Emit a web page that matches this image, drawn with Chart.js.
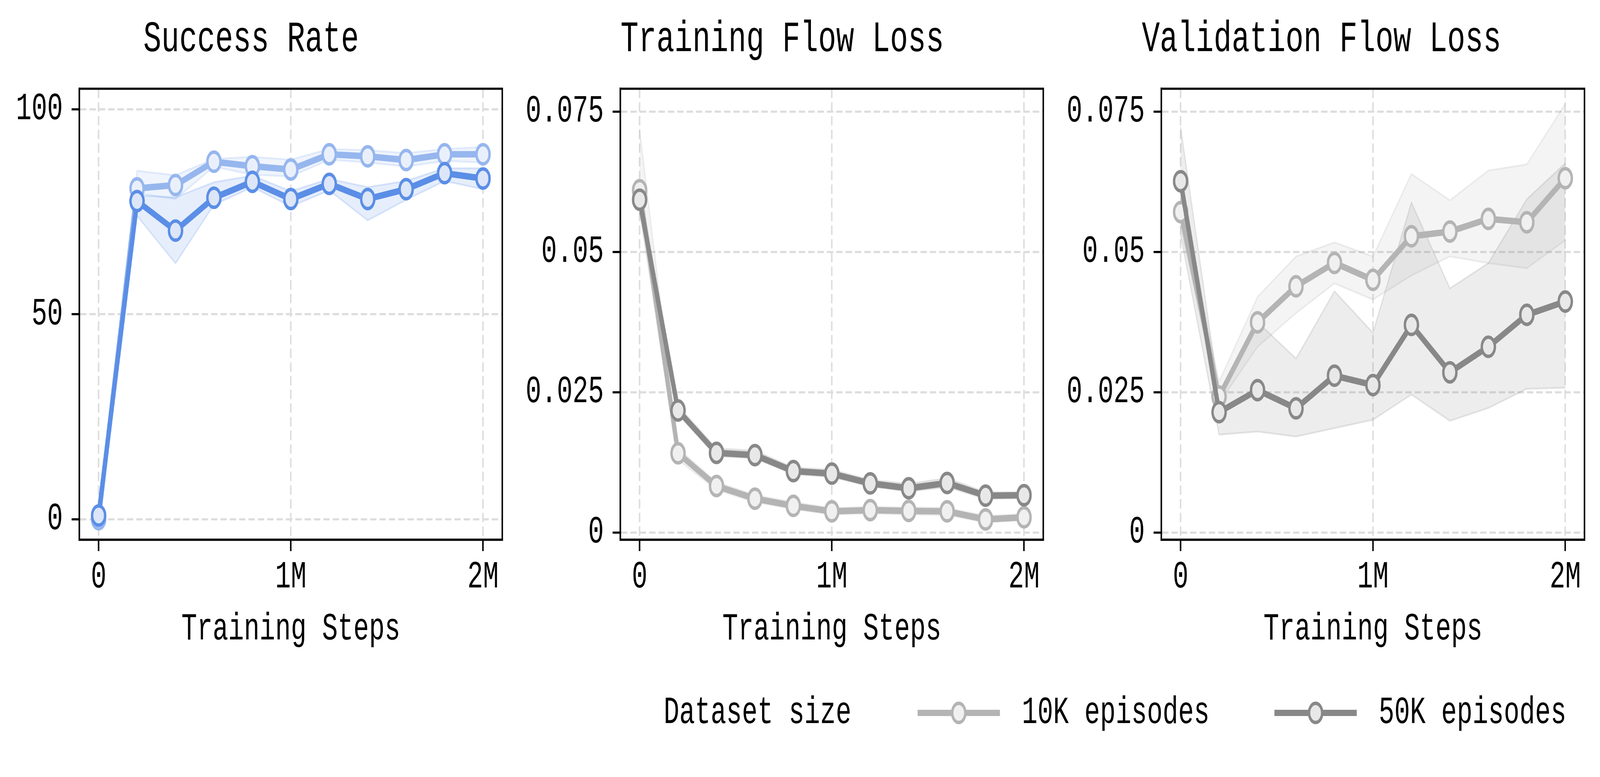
<!DOCTYPE html>
<html>
<head>
<meta charset="utf-8">
<script src="https://cdn.jsdelivr.net/npm/chart.js@4.4.1/dist/chart.umd.min.js"></script>
<style>
    html, body { margin: 0; padding: 0; background: #fff; overflow: hidden; }
    #outer { position: relative; overflow: hidden; background: #fff; }
    #wrap { position: absolute; left: 0; top: 0; width: 5986px; height: 1988px; overflow: hidden;
        transform-origin: 0 0; font-family: "Liberation Mono", monospace; background: #fff; }
    .panel { position: absolute; top: 0; }
    .leg-text { position: absolute; top: 1764px; height: 120px; line-height: 120px; font-size: 97.5px; color: #000; white-space: pre; }
    .leg-line { position: absolute; top: 1815.75px; width: 308px; height: 16.5px; }
    .leg-dot { position: absolute; top: 1795px; width: 40px; height: 40px; border-radius: 50%; border: 9px solid; }
</style>
</head>
<body>
<div id="outer">
<div id="wrap">
    <canvas id="chartSuccess" class="panel" style="left:0px"></canvas>
    <canvas id="chartTrain" class="panel" style="left:1950px"></canvas>
    <canvas id="chartVal" class="panel" style="left:3960px"></canvas>

    <div class="leg-text" style="left:2483px">Dataset size</div>
    <div class="leg-line" style="left:3433px; background:#b4b4b4"></div>
    <div class="leg-dot" style="left:3558px; border-color:#b4b4b4; background:#f0f0f0"></div>
    <div class="leg-text" style="left:3823px">10K episodes</div>
    <div class="leg-line" style="left:4768px; background:#888888"></div>
    <div class="leg-dot" style="left:4893px; border-color:#888888; background:#e8e8e8"></div>
    <div class="leg-text" style="left:5158px">50K episodes</div>
</div>
</div>

<script>
// Passos de treino (eixo x)
const steps = [0, 200000, 400000, 600000, 800000, 1000000, 1200000, 1400000, 1600000, 1800000, 2000000];
const xTicks = [0, 1000000, 2000000];
const xTickLabels = ['0', '1M', '2M'];

// Success Rate
const success10K = [0, 80.7, 81.5, 87.2, 86.1, 85.3, 89.0, 88.5, 87.6, 89.0, 89.0];
const success10KHi = [1, 85.0, 83.9, 87.9, 88.4, 87.7, 90.3, 90.0, 89.3, 90.3, 90.8];
const success10KLo = [0, 79.5, 78.1, 86.0, 84.0, 83.6, 87.7, 87.0, 86.0, 87.4, 87.0];
const success50K = [0.9, 77.6, 70.4, 78.4, 82.3, 78.1, 81.8, 78.1, 80.5, 84.4, 83.1];
const success50KHi = [2, 79.0, 78.5, 82.2, 83.8, 80.0, 83.0, 81.0, 82.5, 85.6, 85.6];
const success50KLo = [0, 74.0, 62.4, 76.7, 81.0, 76.3, 80.2, 72.9, 77.9, 82.5, 80.5];
const successTicks = [0, 50, 100];
const successTickLabels = ['0', '50', '100'];

// Training Flow Loss
const train10K = [0.0610, 0.01412, 0.0083, 0.00604, 0.00476, 0.00378, 0.0040, 0.00385, 0.00378, 0.00234, 0.00272];
const train10KHi = [0.0718, 0.0150, 0.0090, 0.0067, 0.0054, 0.0044, 0.0046, 0.0045, 0.0044, 0.0030, 0.0033];
const train10KLo = [0.0570, 0.0130, 0.0076, 0.0054, 0.0042, 0.0032, 0.0034, 0.0032, 0.0031, 0.0018, 0.0022];
const train50K = [0.0593, 0.02175, 0.0142, 0.0138, 0.01095, 0.0105, 0.00876, 0.0079, 0.00884, 0.00657, 0.00665];
const train50KHi = [0.0620, 0.0226, 0.0150, 0.0146, 0.0116, 0.0112, 0.0094, 0.0087, 0.0097, 0.0072, 0.0072];
const train50KLo = [0.0570, 0.0210, 0.0136, 0.0132, 0.0104, 0.0099, 0.0082, 0.0073, 0.0081, 0.0060, 0.0061];

// Validation Flow Loss
const val10K = [0.0571, 0.02424, 0.03746, 0.04388, 0.04804, 0.04502, 0.05279, 0.05363, 0.05589, 0.05529, 0.06314];
const val10KHi = [0.0600, 0.0269, 0.0420, 0.0492, 0.0517, 0.0492, 0.0639, 0.0592, 0.0645, 0.0656, 0.0764];
const val10KLo = [0.0545, 0.0231, 0.0331, 0.0391, 0.0444, 0.0415, 0.0458, 0.0492, 0.0480, 0.0471, 0.0521];
const val50K = [0.0626, 0.02145, 0.02538, 0.02213, 0.02795, 0.02628, 0.0370, 0.02855, 0.0331, 0.0388, 0.04116];
const val50KHi = [0.0722, 0.0246, 0.0375, 0.0310, 0.0430, 0.0356, 0.0588, 0.0435, 0.0480, 0.0594, 0.0658];
const val50KLo = [0.0530, 0.01745, 0.0180, 0.0171, 0.0186, 0.0201, 0.0246, 0.0199, 0.0222, 0.0256, 0.0258];

const lossTicks = [0, 0.025, 0.05, 0.075];
const lossTickLabels = ['0', '0.025', '0.05', '0.075'];

const FONT = '"Liberation Mono", monospace';
const DESIGN_W = 5986;
const DESIGN_H = 1988;

// Cores
const blue = { line50: '#5b8ee6', line10: '#96b6ee', face50: '#dce6f8', face10: '#eaf0fb',
    band50: 'rgba(100,149,237,0.16)', edge50: 'rgba(100,149,237,0.22)',
    band10: 'rgba(100,149,237,0.10)', edge10: 'rgba(100,149,237,0.16)' };
const gray = { line50: '#888888', line10: '#b4b4b4', face50: '#e8e8e8', face10: '#f0f0f0',
    band50: 'rgba(128,128,128,0.14)', edge50: 'rgba(128,128,128,0.18)',
    band10: 'rgba(128,128,128,0.09)', edge10: 'rgba(128,128,128,0.13)' };

// Ajusta a figura à janela real (largura e altura)
const scaleX = (window.innerWidth || DESIGN_W) / DESIGN_W;
const scaleY = (window.innerHeight || DESIGN_H) / DESIGN_H;
const outer = document.getElementById('outer');
outer.style.width = (DESIGN_W * scaleX) + 'px';
outer.style.height = (DESIGN_H * scaleY) + 'px';
document.getElementById('wrap').style.transform = 'scale(' + scaleX + ',' + scaleY + ')';
const pixelRatio = Math.max(scaleX, scaleY) * (window.devicePixelRatio || 1);

function pts(values) {
    return values.map((v, i) => ({ x: steps[i], y: v }));
}

// Moldura completa em volta da área do gráfico
const frameBox = {
    id: 'frameBox',
    afterDraw(chart) {
        const { ctx, chartArea } = chart;
        ctx.save();
        ctx.strokeStyle = '#000';
        ctx.lineWidth = 5.5;
        ctx.strokeRect(chartArea.left, chartArea.top, chartArea.right - chartArea.left, chartArea.bottom - chartArea.top);
        ctx.restore();
    }
};

function makePanel(canvasId, cfg) {
    const c = cfg.colors;
    const canvas = document.getElementById(canvasId);
    canvas.style.width = cfg.width + 'px';
    canvas.style.height = '1700px';
    canvas.width = cfg.width;
    canvas.height = 1700;

    const lineDs = (label, data, color, face) => ({
        label: label,
        data: pts(data),
        borderColor: color,
        borderWidth: 16.5,
        borderJoinStyle: 'round',
        borderCapStyle: 'round',
        pointRadius: 24.5,
        pointBorderWidth: 9,
        pointBackgroundColor: face,
        pointBorderColor: color,
        fill: false,
        tension: 0
    });
    const bandDs = (data, edge, fillTarget, bg) => ({
        data: pts(data),
        borderColor: edge,
        borderWidth: 4.5,
        pointRadius: 0,
        backgroundColor: bg || 'transparent',
        fill: fillTarget === undefined ? false : fillTarget,
        tension: 0
    });

    return new Chart(canvas, {
        type: 'line',
        data: {
            datasets: [
                lineDs('50K episodes', cfg.s50, c.line50, c.face50),
                lineDs('10K episodes', cfg.s10, c.line10, c.face10),
                bandDs(cfg.s50Lo, c.edge50),
                bandDs(cfg.s50Hi, c.edge50, 2, c.band50),
                bandDs(cfg.s10Lo, c.edge10),
                bandDs(cfg.s10Hi, c.edge10, 4, c.band10)
            ]
        },
        options: {
            responsive: false,
            devicePixelRatio: pixelRatio,
            animation: false,
            events: [],
            layout: { padding: { left: 0, right: cfg.padRight, top: 0, bottom: 0 } },
            plugins: {
                legend: { display: false },
                tooltip: { enabled: false },
                title: {
                    display: true,
                    text: cfg.title,
                    color: '#000',
                    font: { family: FONT, size: 112, weight: 'normal', lineHeight: 1.2 },
                    padding: { top: 34, bottom: 58.6 }
                }
            },
            scales: {
                x: {
                    type: 'linear',
                    min: -100000,
                    max: 2100000,
                    afterBuildTicks: scale => { scale.ticks = xTicks.map(v => ({ value: v })); },
                    afterFit: scale => { scale.height = 319; },
                    ticks: {
                        color: '#000',
                        font: { family: FONT, size: 97.5, lineHeight: 1.2 },
                        padding: 8.5,
                        maxRotation: 0,
                        autoSkip: false,
                        callback: (v, i) => xTickLabels[i]
                    },
                    title: {
                        display: true,
                        text: 'Training Steps',
                        color: '#000',
                        font: { family: FONT, size: 97.5, lineHeight: 1.2 },
                        padding: { top: 0, bottom: 31.5 }
                    },
                    grid: { color: '#dddddd', lineWidth: 5.5, drawTicks: true, tickLength: 29, tickColor: '#000', tickWidth: 5.5 },
                    border: { display: true, color: '#000', width: 5.5, dash: [24, 11] }
                },
                y: {
                    type: 'linear',
                    min: cfg.yMin,
                    max: cfg.yMax,
                    afterBuildTicks: scale => { scale.ticks = cfg.yTicks.map(v => ({ value: v })); },
                    afterFit: scale => { scale.width = cfg.yAxisWidth; },
                    ticks: {
                        color: '#000',
                        font: { family: FONT, size: 97.5, lineHeight: 1.2 },
                        padding: 33,
                        autoSkip: false,
                        callback: (v, i) => cfg.yTickLabels[i]
                    },
                    grid: { color: '#dddddd', lineWidth: 5.5, drawTicks: true, tickLength: 29, tickColor: '#000', tickWidth: 5.5 },
                    border: { display: true, color: '#000', width: 5.5, dash: [24, 11] }
                }
            }
        },
        plugins: [frameBox]
    });
}

function drawAll() {
    makePanel('chartSuccess', {
        title: 'Success Rate',
        colors: blue, width: 1950,
        s10: success10K, s10Hi: success10KHi, s10Lo: success10KLo,
        s50: success50K, s50Hi: success50KHi, s50Lo: success50KLo,
        yMin: -5, yMax: 105,
        yTicks: successTicks, yTickLabels: successTickLabels,
        yAxisWidth: 297, padRight: 71
    });
    makePanel('chartTrain', {
        title: 'Training Flow Loss',
        colors: gray, width: 2000,
        s10: train10K, s10Hi: train10KHi, s10Lo: train10KLo,
        s50: train50K, s50Hi: train50KHi, s50Lo: train50KLo,
        yMin: -0.00128, yMax: 0.07908,
        yTicks: lossTicks, yTickLabels: lossTickLabels,
        yAxisWidth: 371, padRight: 47
    });
    makePanel('chartVal', {
        title: 'Validation Flow Loss',
        colors: gray, width: 2026,
        s10: val10K, s10Hi: val10KHi, s10Lo: val10KLo,
        s50: val50K, s50Hi: val50KHi, s50Lo: val50KLo,
        yMin: -0.00128, yMax: 0.07908,
        yTicks: lossTicks, yTickLabels: lossTickLabels,
        yAxisWidth: 385, padRight: 58
    });
}

if (document.fonts && document.fonts.load) {
    document.fonts.load('97px "Liberation Mono"').then(drawAll, drawAll);
} else {
    drawAll();
}
</script>
</body>
</html>
